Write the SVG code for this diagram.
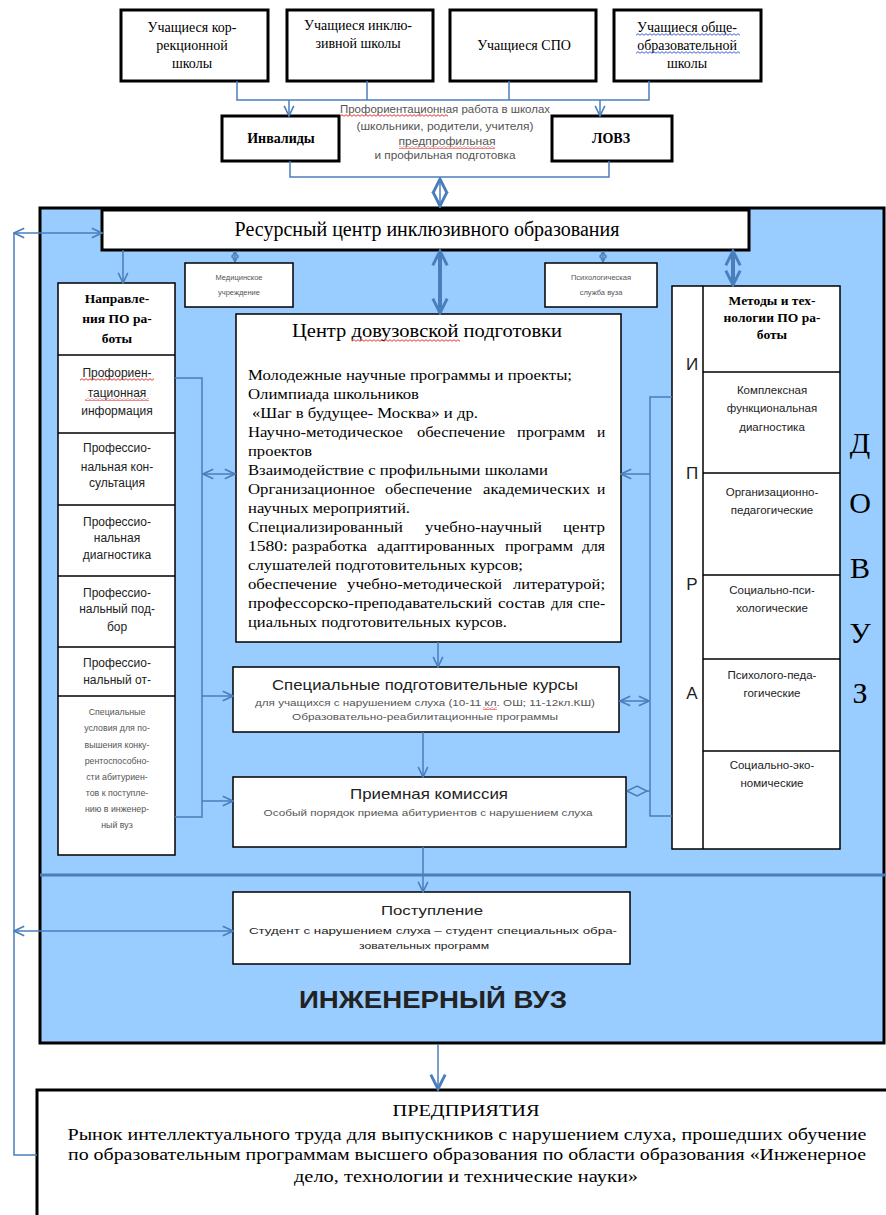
<svg xmlns="http://www.w3.org/2000/svg" width="886" height="1215" viewBox="0 0 886 1215">
<style>
.bx{fill:#fff;stroke:#000;stroke-width:1.5}
.bxt{fill:#fff;stroke:#000;stroke-width:3}
.c{fill:none;stroke:#4a7ebb;stroke-width:1.5}
.ck{fill:none;stroke:#4a7ebb;stroke-width:4}
.sf{font-family:"Liberation Serif","Times New Roman",serif;fill:#000}
.ss{font-family:"Liberation Sans",Arial,sans-serif;fill:#222}
.g{fill:#555}
.m{text-anchor:middle}
.b{font-weight:bold}
.wr{fill:url(#wavR)}
.wb{fill:url(#wavB)}
</style>
<defs>
<marker id="ar" viewBox="0 0 10 10" refX="9.5" refY="5" markerWidth="12" markerHeight="12" markerUnits="userSpaceOnUse" orient="auto-start-reverse">
<path d="M1,1 L9.5,5 L1,9" fill="none" stroke="#4a7ebb" stroke-width="1.3"/>
</marker>
<marker id="arS" viewBox="0 0 10 10" refX="9.5" refY="5" markerWidth="8" markerHeight="8" markerUnits="userSpaceOnUse" orient="auto-start-reverse">
<path d="M1,1 L9.5,5 L1,9" fill="none" stroke="#4a7ebb" stroke-width="1.8"/>
</marker>
<marker id="arB" viewBox="0 0 10 10" refX="9" refY="5" markerWidth="18" markerHeight="18" markerUnits="userSpaceOnUse" orient="auto-start-reverse">
<path d="M1,1 L9,5 L1,9" fill="none" stroke="#4a7ebb" stroke-width="1.6"/>
</marker>
<pattern id="wavR" width="4" height="3" patternUnits="userSpaceOnUse">
<path d="M0,2.3 L2,0.7 L4,2.3" fill="none" stroke="#e02020" stroke-width="0.9"/>
</pattern>
<pattern id="wavB" width="4" height="3" patternUnits="userSpaceOnUse">
<path d="M0,2.3 L2,0.7 L4,2.3" fill="none" stroke="#3050d0" stroke-width="0.9"/>
</pattern>
</defs>

<!-- Blue area -->
<g id="vuz">
<rect x="40" y="208" width="844" height="835" fill="#99ccff" stroke="#000" stroke-width="3"/>
<line x1="40" y1="875" x2="886" y2="875" stroke="#4a7ebb" stroke-width="3"/>
<text class="ss b m" x="433" y="1008" font-size="24" textLength="268" lengthAdjust="spacingAndGlyphs" fill="#111">ИНЖЕНЕРНЫЙ ВУЗ</text>
<g class="sf m" font-size="30">
<text x="860" y="453">Д</text>
<text x="860" y="513">О</text>
<text x="860" y="578">В</text>
<text x="860" y="643">У</text>
<text x="860" y="703">З</text>
</g>
</g>

<!-- Top boxes -->
<g id="n1"><rect class="bxt" x="121" y="10" width="147" height="71"/>
<text class="sf m" font-size="14"><tspan x="192" y="32">Учащиеся кор-</tspan><tspan x="192" y="50">рекционной</tspan><tspan x="192" y="68">школы</tspan></text></g>
<g id="n2"><rect class="bxt" x="287" y="10" width="146" height="71"/>
<text class="sf m" font-size="14"><tspan x="358" y="30">Учащиеся инклю-</tspan><tspan x="358" y="48">зивной школы</tspan></text></g>
<g id="n3"><rect class="bxt" x="450" y="10" width="146" height="71"/>
<text class="sf m" font-size="14" x="524" y="50">Учащиеся СПО</text></g>
<g id="n4"><rect class="bxt" x="614" y="10" width="147" height="71"/>
<text class="sf m" font-size="14"><tspan x="687" y="32">Учащиеся  обще-</tspan><tspan x="687" y="50">образовательной</tspan><tspan x="687" y="68">школы</tspan></text>
<rect class="wb" x="636" y="33" width="104" height="3"/>
<rect class="wb" x="636" y="51" width="104" height="3"/></g>

<g id="inv"><rect class="bxt" x="222" y="116" width="117" height="45"/>
<text class="sf m b" font-size="14" x="281" y="143">Инвалиды</text></g>
<g id="lovz"><rect class="bxt" x="552" y="116" width="120" height="45"/>
<text class="sf m b" font-size="14" x="611" y="143">ЛОВЗ</text></g>

<g id="proforient">
<g class="ss m g" font-size="10.5">
<text x="445" y="113" textLength="210" lengthAdjust="spacingAndGlyphs">Профориентационная работа в школах</text>
<text x="445" y="130" textLength="177" lengthAdjust="spacingAndGlyphs">(школьники, родители, учителя)</text>
<text x="447" y="145" textLength="97" lengthAdjust="spacingAndGlyphs">предпрофильная</text>
<text x="445" y="159" textLength="141" lengthAdjust="spacingAndGlyphs">и профильная подготовка</text>
</g>
<rect class="wr" x="340" y="114" width="108" height="3"/>
<rect class="wr" x="399" y="146" width="96" height="3"/>
</g>

<!-- Resource center -->
<g id="rc"><rect class="bxt" x="102" y="210" width="647" height="40"/>
<text class="sf m" font-size="20" x="427" y="236">Ресурсный центр инклюзивного образования</text></g>

<g id="med"><rect class="bx" x="185" y="263" width="108" height="44"/>
<text class="ss m g" font-size="7.5"><tspan x="239" y="280">Медицинское</tspan><tspan x="239" y="295">учреждение</tspan></text></g>
<g id="psy"><rect class="bx" x="545" y="263" width="112" height="44"/>
<text class="ss m g" font-size="7.5"><tspan x="601" y="280">Психологическая</tspan><tspan x="601" y="295">служба вуза</tspan></text></g>

<!-- Left column -->
<g id="napr">
<rect class="bx" x="58" y="283" width="117" height="572"/>
<line x1="58" y1="355" x2="175" y2="355" stroke="#000" stroke-width="1.5"/>
<line x1="58" y1="433" x2="175" y2="433" stroke="#000" stroke-width="1.5"/>
<line x1="58" y1="505" x2="175" y2="505" stroke="#000" stroke-width="1.5"/>
<line x1="58" y1="576" x2="175" y2="576" stroke="#000" stroke-width="1.5"/>
<line x1="58" y1="647" x2="175" y2="647" stroke="#000" stroke-width="1.5"/>
<line x1="58" y1="696" x2="175" y2="696" stroke="#000" stroke-width="1.5"/>
<text class="sf m b" font-size="13.5"><tspan x="117" y="303">Направле-</tspan><tspan x="117" y="323">ния ПО ра-</tspan><tspan x="117" y="343">боты</tspan></text>
<g class="ss m" font-size="12" fill="#333">
<text><tspan x="117" y="377">Профориен-</tspan><tspan x="117" y="397">тационная</tspan><tspan x="117" y="415">информация</tspan></text>
<text><tspan x="117" y="452">Профессио-</tspan><tspan x="117" y="471">нальная кон-</tspan><tspan x="117" y="487">сультация</tspan></text>
<text><tspan x="117" y="526">Профессио-</tspan><tspan x="117" y="542">нальная</tspan><tspan x="117" y="559">диагностика</tspan></text>
<text><tspan x="117" y="597">Профессио-</tspan><tspan x="117" y="613">нальный под-</tspan><tspan x="117" y="631">бор</tspan></text>
<text><tspan x="117" y="667">Профессио-</tspan><tspan x="117" y="684">нальный от-</tspan></text>
</g>
<rect class="wr" x="80" y="378" width="74" height="3"/>
<rect class="wr" x="85" y="398" width="64" height="3"/>
<text class="ss m g" font-size="8.8"><tspan x="117" y="715">Специальные</tspan><tspan x="117" y="731">условия для по-</tspan><tspan x="117" y="748">вышения конку-</tspan><tspan x="117" y="764">рентоспособно-</tspan><tspan x="117" y="780">сти абитуриен-</tspan><tspan x="117" y="796">тов к поступле-</tspan><tspan x="117" y="812">нию в инженер-</tspan><tspan x="117" y="828">ный вуз</tspan></text>
</g>

<!-- Center box -->
<g id="cdp"><rect class="bx" x="236" y="314" width="385" height="328"/>
<text class="sf m" font-size="19" x="427" y="337" textLength="270" lengthAdjust="spacingAndGlyphs">Центр довузовской подготовки</text>
<rect class="wr" x="352" y="339" width="108" height="3"/>
<g class="sf" font-size="15.5" lengthAdjust="spacingAndGlyphs">
<text x="248" y="380" textLength="324" lengthAdjust="spacingAndGlyphs">Молодежные научные программы и проекты;</text>
<text x="248" y="399" textLength="171" lengthAdjust="spacingAndGlyphs">Олимпиада школьников</text>
<text x="252" y="418" textLength="226" lengthAdjust="spacingAndGlyphs">«Шаг в будущее- Москва» и др.</text>
<text y="437"><tspan x="248" textLength="155" lengthAdjust="spacingAndGlyphs">Научно-методическое</tspan><tspan x="417" textLength="88" lengthAdjust="spacingAndGlyphs">обеспечение</tspan><tspan x="517" textLength="68" lengthAdjust="spacingAndGlyphs">программ</tspan><tspan x="597">и</tspan></text>
<text x="248" y="456" textLength="64" lengthAdjust="spacingAndGlyphs">проектов</text>
<text x="248" y="475" textLength="300" lengthAdjust="spacingAndGlyphs">Взаимодействие с профильными школами</text>
<text y="494"><tspan x="248" textLength="127" lengthAdjust="spacingAndGlyphs">Организационное</tspan><tspan x="385" textLength="87" lengthAdjust="spacingAndGlyphs">обеспечение</tspan><tspan x="483" textLength="107" lengthAdjust="spacingAndGlyphs">академических</tspan><tspan x="597">и</tspan></text>
<text x="248" y="513" textLength="162" lengthAdjust="spacingAndGlyphs">научных мероприятий.</text>
<text y="532"><tspan x="248" textLength="155" lengthAdjust="spacingAndGlyphs">Специализированный</tspan><tspan x="425" textLength="117" lengthAdjust="spacingAndGlyphs">учебно-научный</tspan><tspan x="563" textLength="42" lengthAdjust="spacingAndGlyphs">центр</tspan></text>
<text y="551"><tspan x="248" textLength="40" lengthAdjust="spacingAndGlyphs">1580:</tspan><tspan x="292" textLength="75" lengthAdjust="spacingAndGlyphs">разработка</tspan><tspan x="377" textLength="118" lengthAdjust="spacingAndGlyphs">адаптированных</tspan><tspan x="505" textLength="68" lengthAdjust="spacingAndGlyphs">программ</tspan><tspan x="582" textLength="23" lengthAdjust="spacingAndGlyphs">для</tspan></text>
<text x="248" y="570" textLength="275" lengthAdjust="spacingAndGlyphs">слушателей подготовительных курсов;</text>
<text y="589"><tspan x="248" textLength="89" lengthAdjust="spacingAndGlyphs">обеспечение</tspan><tspan x="347" textLength="155" lengthAdjust="spacingAndGlyphs">учебно-методической</tspan><tspan x="513" textLength="92" lengthAdjust="spacingAndGlyphs">литературой;</tspan></text>
<text y="608"><tspan x="248" textLength="244" lengthAdjust="spacingAndGlyphs">профессорско-преподавательский</tspan><tspan x="498" textLength="47" lengthAdjust="spacingAndGlyphs">состав</tspan><tspan x="551" textLength="22" lengthAdjust="spacingAndGlyphs">для</tspan><tspan x="578" textLength="27" lengthAdjust="spacingAndGlyphs">спе-</tspan></text>
<text x="248" y="627" textLength="259" lengthAdjust="spacingAndGlyphs">циальных подготовительных курсов.</text>
</g></g>

<g id="spk"><rect class="bx" x="233" y="667" width="386" height="65"/>
<text class="ss m" font-size="15" x="425" y="690" textLength="306" lengthAdjust="spacingAndGlyphs">Специальные подготовительные курсы</text>
<text class="ss m g" font-size="9" x="425" y="706" textLength="340" lengthAdjust="spacingAndGlyphs">для учащихся с нарушением слуха (10-11 кл. ОШ; 11-12кл.КШ)</text>
<rect class="wr" x="483" y="707" width="14" height="3"/>
<text class="ss m g" font-size="9" x="425" y="720" textLength="266" lengthAdjust="spacingAndGlyphs">Образовательно-реабилитационные программы</text></g>

<g id="pk"><rect class="bx" x="233" y="777" width="393" height="70"/>
<text class="ss m" font-size="15" x="429" y="799" textLength="158" lengthAdjust="spacingAndGlyphs">Приемная комиссия</text>
<text class="ss m g" font-size="9" x="428" y="816" textLength="329" lengthAdjust="spacingAndGlyphs">Особый порядок приема абитуриентов с нарушением слуха</text></g>

<g id="post"><rect class="bx" x="233" y="892" width="397" height="72"/>
<text class="ss m" font-size="13" x="432" y="915" textLength="102" lengthAdjust="spacingAndGlyphs">Поступление</text>
<text class="ss m" font-size="9.5" x="433" y="934" fill="#111" textLength="368" lengthAdjust="spacingAndGlyphs">Студент с нарушением слуха – студент специальных обра-</text>
<text class="ss m" font-size="9.5" x="424" y="949" fill="#111" textLength="130" lengthAdjust="spacingAndGlyphs">зовательных программ</text></g>

<!-- Right column -->
<g id="ipra">
<rect class="bx" x="672" y="286" width="168" height="563"/>
<line x1="703" y1="286" x2="703" y2="849" stroke="#000" stroke-width="1.5"/>
<line x1="703" y1="372" x2="840" y2="372" stroke="#000" stroke-width="1.5"/>
<line x1="703" y1="473" x2="840" y2="473" stroke="#000" stroke-width="1.5"/>
<line x1="703" y1="575" x2="840" y2="575" stroke="#000" stroke-width="1.5"/>
<line x1="703" y1="659" x2="840" y2="659" stroke="#000" stroke-width="1.5"/>
<line x1="703" y1="751" x2="840" y2="751" stroke="#000" stroke-width="1.5"/>
<g class="ss m" font-size="17" fill="#111">
<text x="692" y="370">И</text>
<text x="692" y="479">П</text>
<text x="692" y="590">Р</text>
<text x="692" y="699">А</text>
</g>
<text class="sf m b" font-size="13.5"><tspan x="772" y="305">Методы и тех-</tspan><tspan x="772" y="322">нологии ПО ра-</tspan><tspan x="772" y="339">боты</tspan></text>
<g class="ss m" font-size="11.5" fill="#333">
<text><tspan x="772" y="394">Комплексная</tspan><tspan x="772" y="412">функциональная</tspan><tspan x="772" y="431">диагностика</tspan></text>
<text><tspan x="772" y="496">Организационно-</tspan><tspan x="772" y="514">педагогические</tspan></text>
<text><tspan x="772" y="594">Социально-пси-</tspan><tspan x="772" y="612">хологические</tspan></text>
<text><tspan x="772" y="679">Психолого-педа-</tspan><tspan x="772" y="697">гогические</tspan></text>
<text><tspan x="772" y="769">Социально-эко-</tspan><tspan x="772" y="787">номические</tspan></text>
</g>
</g>

<!-- Enterprises -->
<g id="pred"><rect class="bxt" x="37" y="1090" width="860" height="140"/>
<g class="sf m" font-size="16">
<text x="466" y="1116" textLength="147" lengthAdjust="spacingAndGlyphs">ПРЕДПРИЯТИЯ</text>
<text x="467" y="1140" textLength="799" lengthAdjust="spacingAndGlyphs">Рынок интеллектуального труда для выпускников с нарушением слуха, прошедших обучение</text>
<text x="467" y="1160" textLength="798" lengthAdjust="spacingAndGlyphs">по образовательным программам высшего образования по области образования «Инженерное</text>
<text x="466" y="1182" textLength="344" lengthAdjust="spacingAndGlyphs">дело, технологии и технические науки»</text>
</g></g>

<!-- Connectors -->
<g id="connectors">
<polyline class="c" points="237,81 237,100 649,100 649,81"/>
<line class="c" x1="367" y1="81" x2="367" y2="100"/>
<line class="c" x1="509" y1="81" x2="509" y2="100"/>
<line class="c" x1="289" y1="100" x2="289" y2="116" marker-end="url(#ar)"/>
<line class="c" x1="600" y1="100" x2="600" y2="116" marker-end="url(#ar)"/>
<polyline class="c" points="290,161 290,177 609,177 609,161"/>
<line class="c" x1="440" y1="179" x2="440" y2="206" stroke-width="3" marker-start="url(#arB)" marker-end="url(#arB)"/>

<line class="c" x1="14" y1="233" x2="102" y2="233" marker-start="url(#ar)" marker-end="url(#ar)"/>
<polyline class="c" points="14,233 14,1155 37,1155"/>
<line class="c" x1="14" y1="931" x2="233" y2="931" marker-start="url(#ar)" marker-end="url(#ar)"/>

<line class="c" x1="123" y1="250" x2="123" y2="283" marker-end="url(#ar)"/>
<line class="ck" x1="440" y1="251" x2="440" y2="313" marker-start="url(#arB)" marker-end="url(#arB)"/>
<line class="ck" x1="733" y1="251" x2="733" y2="285" marker-start="url(#arB)" marker-end="url(#arB)"/>
<line class="c" x1="235" y1="251" x2="235" y2="262" stroke-width="2" marker-start="url(#arS)" marker-end="url(#arS)"/>
<line class="c" x1="603" y1="251" x2="603" y2="262" stroke-width="2" marker-start="url(#arS)" marker-end="url(#arS)"/>

<polyline class="c" points="175,378 202,378 202,817 175,817"/>
<line class="c" x1="203" y1="474" x2="235" y2="474" marker-start="url(#ar)" marker-end="url(#ar)"/>
<line class="c" x1="202" y1="696" x2="233" y2="696" marker-end="url(#ar)"/>
<line class="c" x1="202" y1="801" x2="233" y2="801" marker-end="url(#ar)"/>

<polyline class="c" points="672,397 650,397 650,816 672,816"/>
<line class="c" x1="650" y1="474" x2="621" y2="474" marker-end="url(#ar)"/>
<line class="c" x1="620" y1="701" x2="649" y2="701" marker-start="url(#ar)" marker-end="url(#ar)"/>
<polyline class="c" points="627,791 637,786 647,791 637,796 627,791"/>
<line class="c" x1="647" y1="791" x2="650" y2="791"/>

<line class="c" x1="438" y1="642" x2="438" y2="667" marker-end="url(#ar)"/>
<line class="c" x1="423" y1="732" x2="423" y2="777" marker-end="url(#ar)"/>
<line class="c" x1="423" y1="847" x2="423" y2="892" marker-end="url(#ar)"/>
<line class="c" x1="438" y1="1044" x2="438" y2="1089" stroke-width="3" marker-end="url(#arB)"/>
</g>
</svg>
